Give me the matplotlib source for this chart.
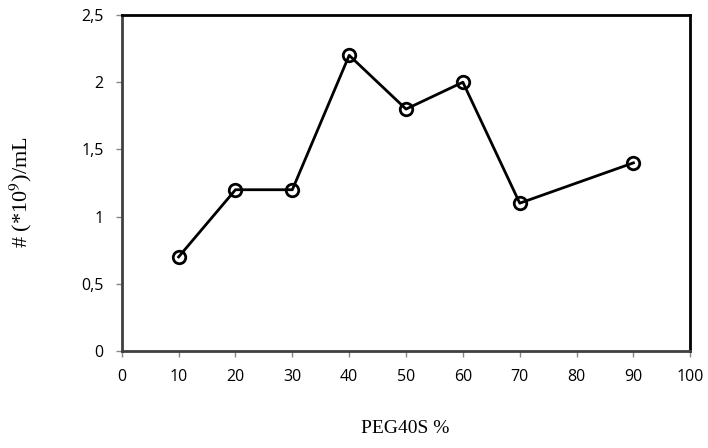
import matplotlib
matplotlib.use('agg')
import matplotlib.pyplot as plt

plt.rcParams['mathtext.fontset'] = 'stix'

peg = [10, 20, 30, 40, 50, 60, 70, 90]
conc = [0.7, 1.2, 1.2, 2.2, 1.8, 2.0, 1.1, 1.4]
xticks = [0, 10, 20, 30, 40, 50, 60, 70, 80, 90, 100]
yticks = [0, 0.5, 1, 1.5, 2, 2.5]
ytick_labels = ['0', '0,5', '1', '1,5', '2', '2,5']

fig = plt.figure(figsize=(7.08, 4.48), dpi=100)
ax = fig.add_axes([0.172, 0.2165, 0.803, 0.75])

ax.plot(peg, conc, '-o', color='black', linewidth=2, markersize=9,
        markerfacecolor='none', markeredgewidth=2)

ax.set_xlim(0, 100)
ax.set_ylim(0, 2.5)
ax.set_xticks(xticks)
ax.set_yticks(yticks)
ax.set_yticklabels(ytick_labels)
ax.tick_params(direction='out', length=4, width=1, color='#888888',
               labelsize=11.5, pad=9)
for lab in ax.get_xticklabels() + ax.get_yticklabels():
    lab.set_fontfamily('Open Sans')

for s in ['left', 'bottom']:
    ax.spines[s].set_color('#404040')
    ax.spines[s].set_linewidth(2)
for s in ['top', 'right']:
    ax.spines[s].set_color('black')
    ax.spines[s].set_linewidth(2)

fig.text(405/708, 1-428/448, 'PEG40S %', family='Liberation Serif', size=14,
         ha='center', va='center')
fig.text(21/708, 1-192/448, r'# (*10$^{9}$)/mL', family='Liberation Serif',
         size=16, rotation=90, ha='center', va='center')

fig.savefig('out.png', dpi=100)
